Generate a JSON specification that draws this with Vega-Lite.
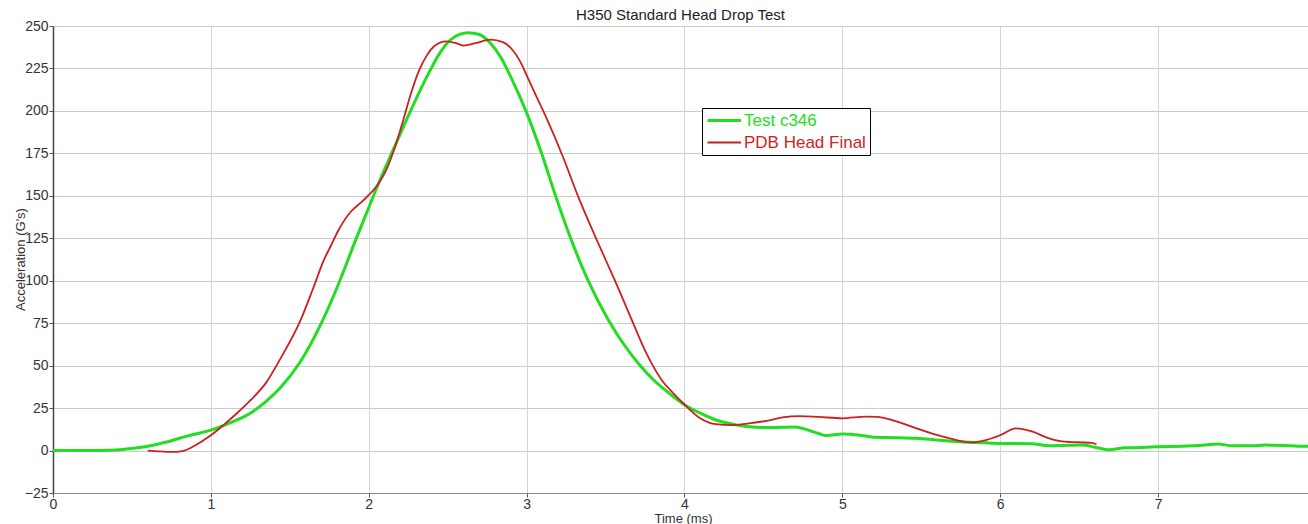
{
  "$schema": "https://vega.github.io/schema/vega-lite/v6.json",
  "width": 1255,
  "height": 467,
  "autosize": {"type": "none"},
  "padding": {"left": 53, "top": 26, "right": 0, "bottom": 31},
  "background": "#ffffff",
  "title": {"text": "H350 Standard Head Drop Test", "fontSize": 15, "font": "Liberation Sans", "fontWeight": "normal", "color": "#222222", "offset": -4, "anchor": "middle"},
  "config": {
    "view": {"stroke": null},
    "font": "Liberation Sans",
    "axis": {"labelFont": "Liberation Sans", "titleFont": "Liberation Sans", "labelColor": "#333333", "titleColor": "#333333", "titleFontWeight": "normal", "gridColor": "#cccccc", "gridWidth": 1, "tickColor": "#555555"}
  },
  "datasets": {
    "curves": [
      {"t": 0, "a": 0, "s": "Test c346"},
      {"t": 0.2, "a": 0, "s": "Test c346"},
      {"t": 0.4, "a": 0.3, "s": "Test c346"},
      {"t": 0.51, "a": 1.3, "s": "Test c346"},
      {"t": 0.6, "a": 2.5, "s": "Test c346"},
      {"t": 0.72, "a": 5, "s": "Test c346"},
      {"t": 0.85, "a": 8.5, "s": "Test c346"},
      {"t": 1.0, "a": 12, "s": "Test c346"},
      {"t": 1.14, "a": 17, "s": "Test c346"},
      {"t": 1.25, "a": 22, "s": "Test c346"},
      {"t": 1.35, "a": 29, "s": "Test c346"},
      {"t": 1.44, "a": 37, "s": "Test c346"},
      {"t": 1.565, "a": 52, "s": "Test c346"},
      {"t": 1.7, "a": 75, "s": "Test c346"},
      {"t": 1.817, "a": 100, "s": "Test c346"},
      {"t": 1.913, "a": 123, "s": "Test c346"},
      {"t": 2.0, "a": 143, "s": "Test c346"},
      {"t": 2.07, "a": 159, "s": "Test c346"},
      {"t": 2.155, "a": 177, "s": "Test c346"},
      {"t": 2.26, "a": 199, "s": "Test c346"},
      {"t": 2.33, "a": 213, "s": "Test c346"},
      {"t": 2.39, "a": 224, "s": "Test c346"},
      {"t": 2.45, "a": 234, "s": "Test c346"},
      {"t": 2.52, "a": 242, "s": "Test c346"},
      {"t": 2.63, "a": 246, "s": "Test c346"},
      {"t": 2.7, "a": 245, "s": "Test c346"},
      {"t": 2.77, "a": 240, "s": "Test c346"},
      {"t": 2.84, "a": 231, "s": "Test c346"},
      {"t": 2.905, "a": 219, "s": "Test c346"},
      {"t": 3.0, "a": 199, "s": "Test c346"},
      {"t": 3.095, "a": 175, "s": "Test c346"},
      {"t": 3.18, "a": 151, "s": "Test c346"},
      {"t": 3.275, "a": 126, "s": "Test c346"},
      {"t": 3.39, "a": 100, "s": "Test c346"},
      {"t": 3.517, "a": 77, "s": "Test c346"},
      {"t": 3.62, "a": 62, "s": "Test c346"},
      {"t": 3.715, "a": 50.5, "s": "Test c346"},
      {"t": 3.8, "a": 42, "s": "Test c346"},
      {"t": 3.9, "a": 34, "s": "Test c346"},
      {"t": 4.0, "a": 27, "s": "Test c346"},
      {"t": 4.1, "a": 22, "s": "Test c346"},
      {"t": 4.2, "a": 18, "s": "Test c346"},
      {"t": 4.31, "a": 15.5, "s": "Test c346"},
      {"t": 4.41, "a": 14, "s": "Test c346"},
      {"t": 4.55, "a": 13.5, "s": "Test c346"},
      {"t": 4.69, "a": 13.8, "s": "Test c346"},
      {"t": 4.75, "a": 13, "s": "Test c346"},
      {"t": 4.8, "a": 11.5, "s": "Test c346"},
      {"t": 4.85, "a": 10, "s": "Test c346"},
      {"t": 4.9, "a": 8.8, "s": "Test c346"},
      {"t": 5.0, "a": 9.7, "s": "Test c346"},
      {"t": 5.1, "a": 9.2, "s": "Test c346"},
      {"t": 5.21, "a": 7.8, "s": "Test c346"},
      {"t": 5.35, "a": 7.6, "s": "Test c346"},
      {"t": 5.47, "a": 7.2, "s": "Test c346"},
      {"t": 5.6, "a": 6.2, "s": "Test c346"},
      {"t": 5.74, "a": 5.2, "s": "Test c346"},
      {"t": 5.85, "a": 4.8, "s": "Test c346"},
      {"t": 5.99, "a": 4.2, "s": "Test c346"},
      {"t": 6.2, "a": 4.0, "s": "Test c346"},
      {"t": 6.31, "a": 2.8, "s": "Test c346"},
      {"t": 6.4, "a": 3.0, "s": "Test c346"},
      {"t": 6.52, "a": 3.2, "s": "Test c346"},
      {"t": 6.6, "a": 2.0, "s": "Test c346"},
      {"t": 6.69, "a": 0.4, "s": "Test c346"},
      {"t": 6.79, "a": 1.6, "s": "Test c346"},
      {"t": 6.9, "a": 1.8, "s": "Test c346"},
      {"t": 7.0, "a": 2.2, "s": "Test c346"},
      {"t": 7.15, "a": 2.6, "s": "Test c346"},
      {"t": 7.3, "a": 3.2, "s": "Test c346"},
      {"t": 7.38, "a": 3.9, "s": "Test c346"},
      {"t": 7.47, "a": 2.8, "s": "Test c346"},
      {"t": 7.6, "a": 2.8, "s": "Test c346"},
      {"t": 7.68, "a": 3.2, "s": "Test c346"},
      {"t": 7.8, "a": 3.0, "s": "Test c346"},
      {"t": 7.89, "a": 2.6, "s": "Test c346"},
      {"t": 7.95, "a": 2.6, "s": "Test c346"},
      {"t": 0.6, "a": 0, "s": "PDB Head Final"},
      {"t": 0.68, "a": -0.5, "s": "PDB Head Final"},
      {"t": 0.75, "a": -0.8, "s": "PDB Head Final"},
      {"t": 0.82, "a": -0.3, "s": "PDB Head Final"},
      {"t": 0.9, "a": 3, "s": "PDB Head Final"},
      {"t": 1.0, "a": 9, "s": "PDB Head Final"},
      {"t": 1.08, "a": 15, "s": "PDB Head Final"},
      {"t": 1.16, "a": 21.5, "s": "PDB Head Final"},
      {"t": 1.25, "a": 29.5, "s": "PDB Head Final"},
      {"t": 1.35, "a": 40, "s": "PDB Head Final"},
      {"t": 1.44, "a": 54, "s": "PDB Head Final"},
      {"t": 1.565, "a": 76, "s": "PDB Head Final"},
      {"t": 1.65, "a": 96, "s": "PDB Head Final"},
      {"t": 1.715, "a": 112, "s": "PDB Head Final"},
      {"t": 1.757, "a": 120, "s": "PDB Head Final"},
      {"t": 1.81, "a": 130, "s": "PDB Head Final"},
      {"t": 1.886, "a": 140.6, "s": "PDB Head Final"},
      {"t": 1.95, "a": 146, "s": "PDB Head Final"},
      {"t": 1.99, "a": 149.5, "s": "PDB Head Final"},
      {"t": 2.06, "a": 157, "s": "PDB Head Final"},
      {"t": 2.11, "a": 165, "s": "PDB Head Final"},
      {"t": 2.16, "a": 177, "s": "PDB Head Final"},
      {"t": 2.22, "a": 195, "s": "PDB Head Final"},
      {"t": 2.27, "a": 211, "s": "PDB Head Final"},
      {"t": 2.32, "a": 224, "s": "PDB Head Final"},
      {"t": 2.37, "a": 233, "s": "PDB Head Final"},
      {"t": 2.42, "a": 238.5, "s": "PDB Head Final"},
      {"t": 2.49, "a": 241, "s": "PDB Head Final"},
      {"t": 2.55, "a": 240, "s": "PDB Head Final"},
      {"t": 2.6, "a": 238.5, "s": "PDB Head Final"},
      {"t": 2.68, "a": 240, "s": "PDB Head Final"},
      {"t": 2.77, "a": 242, "s": "PDB Head Final"},
      {"t": 2.85, "a": 240.5, "s": "PDB Head Final"},
      {"t": 2.91, "a": 236, "s": "PDB Head Final"},
      {"t": 2.96, "a": 229, "s": "PDB Head Final"},
      {"t": 3.01, "a": 219, "s": "PDB Head Final"},
      {"t": 3.07, "a": 207, "s": "PDB Head Final"},
      {"t": 3.125, "a": 196, "s": "PDB Head Final"},
      {"t": 3.23, "a": 173, "s": "PDB Head Final"},
      {"t": 3.325, "a": 150, "s": "PDB Head Final"},
      {"t": 3.44, "a": 125, "s": "PDB Head Final"},
      {"t": 3.56, "a": 100, "s": "PDB Head Final"},
      {"t": 3.675, "a": 75, "s": "PDB Head Final"},
      {"t": 3.75, "a": 59, "s": "PDB Head Final"},
      {"t": 3.8, "a": 50, "s": "PDB Head Final"},
      {"t": 3.86, "a": 41, "s": "PDB Head Final"},
      {"t": 3.93, "a": 33.7, "s": "PDB Head Final"},
      {"t": 3.99, "a": 28, "s": "PDB Head Final"},
      {"t": 4.1, "a": 19, "s": "PDB Head Final"},
      {"t": 4.2, "a": 15.5, "s": "PDB Head Final"},
      {"t": 4.3, "a": 15, "s": "PDB Head Final"},
      {"t": 4.41, "a": 16, "s": "PDB Head Final"},
      {"t": 4.52, "a": 17.5, "s": "PDB Head Final"},
      {"t": 4.62, "a": 19.5, "s": "PDB Head Final"},
      {"t": 4.73, "a": 20.3, "s": "PDB Head Final"},
      {"t": 4.85, "a": 19.8, "s": "PDB Head Final"},
      {"t": 5.0, "a": 19, "s": "PDB Head Final"},
      {"t": 5.15, "a": 20, "s": "PDB Head Final"},
      {"t": 5.22, "a": 19.8, "s": "PDB Head Final"},
      {"t": 5.3, "a": 18.4, "s": "PDB Head Final"},
      {"t": 5.38, "a": 16, "s": "PDB Head Final"},
      {"t": 5.47, "a": 13, "s": "PDB Head Final"},
      {"t": 5.57, "a": 10, "s": "PDB Head Final"},
      {"t": 5.68, "a": 7.2, "s": "PDB Head Final"},
      {"t": 5.81, "a": 4.8, "s": "PDB Head Final"},
      {"t": 5.91, "a": 6.2, "s": "PDB Head Final"},
      {"t": 6.0, "a": 9, "s": "PDB Head Final"},
      {"t": 6.1, "a": 13, "s": "PDB Head Final"},
      {"t": 6.15, "a": 12.5, "s": "PDB Head Final"},
      {"t": 6.21, "a": 11, "s": "PDB Head Final"},
      {"t": 6.3, "a": 7.5, "s": "PDB Head Final"},
      {"t": 6.38, "a": 5.6, "s": "PDB Head Final"},
      {"t": 6.45, "a": 5, "s": "PDB Head Final"},
      {"t": 6.52, "a": 4.8, "s": "PDB Head Final"},
      {"t": 6.58, "a": 4.5, "s": "PDB Head Final"},
      {"t": 6.61, "a": 3.7, "s": "PDB Head Final"}
    ]
  },
  "layer": [
    {
      "data": {"name": "curves"},
      "mark": {"type": "line", "interpolate": "monotone", "clip": true},
      "encoding": {
        "x": {
          "field": "t", "type": "quantitative",
          "scale": {"domain": [0, 7.95], "nice": false, "zero": false},
          "axis": {"title": "Time (ms)", "values": [0, 1, 2, 3, 4, 5, 6, 7], "format": "d", "labelFlush": false, "labelFontSize": 14, "titleFontSize": 13, "tickSize": 4, "labelPadding": 0, "domainColor": "#888888", "gridColor": "#d4d4d4", "titleX": 630, "titleY": 25, "titleBaseline": "middle", "titleAlign": "center"}
        },
        "y": {
          "field": "a", "type": "quantitative",
          "scale": {"domain": [-25, 250], "nice": false, "zero": false},
          "axis": {"title": "Acceleration (G's)", "values": [-25, 0, 25, 50, 75, 100, 125, 150, 175, 200, 225, 250], "labelFontSize": 14, "titleFontSize": 13, "tickSize": 4, "labelPadding": 1, "domainColor": "#444444", "domainWidth": 1.5, "titleX": -33, "titleY": 233, "titleAngle": 270, "titleBaseline": "middle", "titleAlign": "center"}
        },
        "color": {
          "field": "s", "type": "nominal",
          "scale": {"domain": ["Test c346", "PDB Head Final"], "range": ["#22dd22", "#cc1f1f"]},
          "legend": {
            "title": null, "orient": "none", "legendX": 649, "legendY": 82,
            "strokeColor": "#000000", "fillColor": "#ffffff", "padding": 4, "rowPadding": 4,
            "symbolType": "M-1,0H3.8", "symbolSize": 196, "symbolStrokeWidth": 2.5, "labelOffset": 21,
            "labelFontSize": 17, "labelFont": "Liberation Sans",
            "encode": {
              "labels": {"update": {"fill": {"signal": "datum.value === 'Test c346' ? '#22dd22' : '#cc1f1f'"}}},
              "symbols": {"update": {"strokeWidth": {"signal": "datum.value === 'Test c346' ? 3 : 2"}}}
            }
          }
        },
        "strokeWidth": {
          "field": "s", "type": "nominal",
          "scale": {"domain": ["Test c346", "PDB Head Final"], "range": [3, 1.8]},
          "legend": null
        }
      }
    },
    {
      "mark": {"type": "rule", "color": "#555555", "strokeWidth": 1},
      "encoding": {"y": {"datum": 0}}
    },
    {
      "mark": {"type": "rule", "color": "#666666", "strokeWidth": 2},
      "encoding": {"y": {"datum": 250}}
    }
  ]
}
